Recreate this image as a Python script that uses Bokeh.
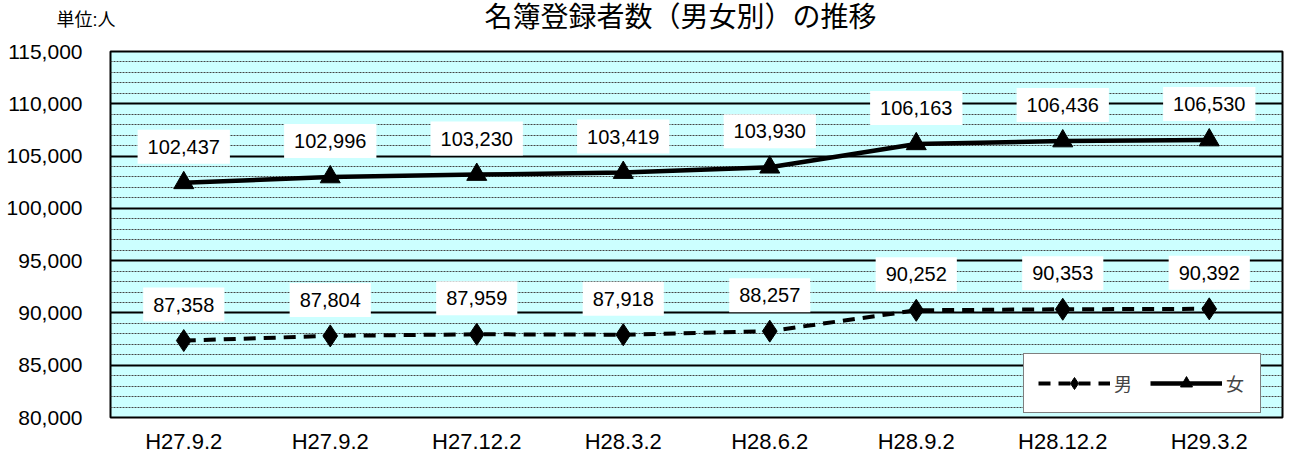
from bokeh.plotting import figure
from bokeh.models import (Label, FixedTicker, SingleIntervalTicker, NumeralTickFormatter,
                          Range1d, Legend, LegendItem)
from bokeh.embed import file_html
from bokeh.resources import INLINE

categories = ["H27.9.2", "H27.9.2", "H27.12.2", "H28.3.2", "H28.6.2", "H28.9.2", "H28.12.2", "H29.3.2"]
female = [102437, 102996, 103230, 103419, 103930, 106163, 106436, 106530]
male = [87358, 87804, 87959, 87918, 88257, 90252, 90353, 90392]
y_min, y_max, y_step = 80000, 115000, 5000
title_text = "名簿登録者数（男女別）の推移"
unit_text = "単位:人"

JP_FONT = "'Liberation Sans', 'Noto Sans CJK JP'"

xs = list(range(len(categories)))

p = figure(width=1284, height=462, output_backend="svg", toolbar_location=None,
           x_range=Range1d(-0.5, len(categories) - 0.5), y_range=Range1d(y_min, y_max),
           min_border_left=110, min_border_right=2, min_border_top=50, min_border_bottom=45)
p.title_location = None

p.background_fill_color = "#CCFFFF"
p.border_fill_color = "white"
p.outline_line_color = "black"
p.outline_line_width = 2

# axes
p.xaxis.ticker = FixedTicker(ticks=xs)
p.xaxis.major_label_overrides = {i: c for i, c in enumerate(categories)}
p.yaxis.ticker = SingleIntervalTicker(interval=y_step, num_minor_ticks=5)
p.yaxis.formatter = NumeralTickFormatter(format="0,0")
for ax in (p.xaxis, p.yaxis):
    ax.axis_line_color = None
    ax.major_tick_line_color = None
    ax.minor_tick_line_color = None
    ax.major_tick_out = 0
    ax.major_tick_in = 0
    ax.minor_tick_out = 0
    ax.minor_tick_in = 0
    ax.major_label_text_font = "Liberation Sans"
    ax.major_label_text_color = "black"
p.xaxis.major_label_text_font_size = "22px"
p.yaxis.major_label_text_font_size = "21px"
p.xaxis.major_label_standoff = 11
p.yaxis.major_label_standoff = 28

# grid
p.xgrid.visible = False
p.ygrid.grid_line_color = "black"
p.ygrid.grid_line_width = 2
p.ygrid.minor_grid_line_color = "#444444"
p.ygrid.minor_grid_line_width = 1
p.ygrid.minor_grid_line_dash = "2 1"

# series
lm = p.line(xs, male, line_color="black", line_width=4, line_dash="12 8")
sm = p.scatter(xs, male, marker="diamond", size=22, fill_color="black", line_color="black")
lf = p.line(xs, female, line_color="black", line_width=4.5)
sf = p.scatter(xs, female, marker="triangle", size=20, fill_color="black", line_color="black")

# data labels
for series in (male, female):
    for i, v in enumerate(series):
        p.add_layout(Label(x=i, y=v, text=f"{v:,}", y_offset=36, text_align="center",
                           text_baseline="middle", text_font_size="20px",
                           text_font="Liberation Sans", text_color="black",
                           background_fill_color="white", padding=10))

legend = Legend(items=[LegendItem(label="男", renderers=[lm, sm]),
                       LegendItem(label="女", renderers=[lf, sf])],
                orientation="horizontal", location=(913, 4),
                glyph_width=72, glyph_height=30, padding=14, spacing=16,
                label_standoff=4, label_text_font="Noto Sans CJK JP",
                label_text_font_size="18px", border_line_color="black",
                border_line_width=1, background_fill_color="white",
                background_fill_alpha=1.0, margin=0)
p.add_layout(legend, "center")

# unit and title, in the top side panel (not clipped to the frame)
p.add_layout(Label(x=-54, y=22, x_units="screen", y_units="screen", text=unit_text,
                   text_font=JP_FONT, text_font_size="18px",
                   text_baseline="bottom", text_align="left", text_color="black"), "above")
p.add_layout(Label(x=570, y=30, x_units="screen", y_units="screen", text=title_text,
                   text_font=JP_FONT, text_font_size="28px",
                   text_baseline="top", text_align="center", text_color="black"), "above")

open("out.html", "w").write(file_html(p, INLINE))
